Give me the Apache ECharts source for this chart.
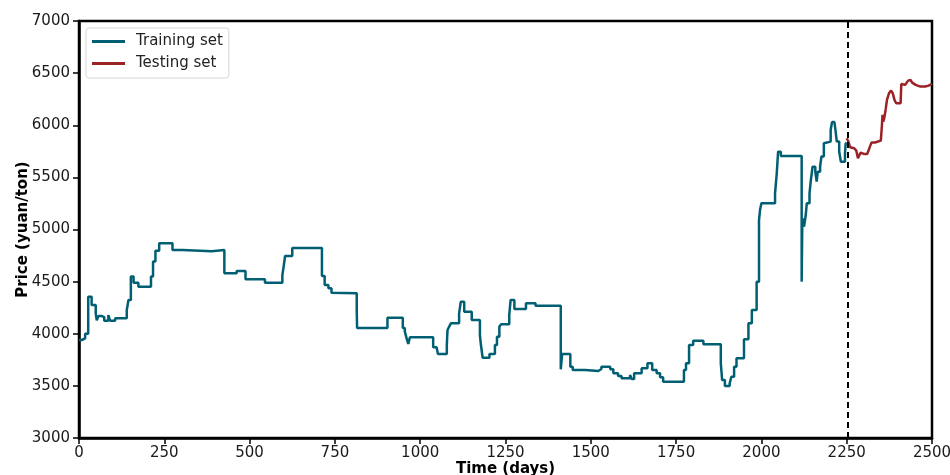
<!DOCTYPE html>
<html>
<head>
<meta charset="utf-8">
<script src="https://cdn.jsdelivr.net/npm/echarts@6/dist/echarts.min.js"></script>
<style>
html,body{margin:0;padding:0;background:#fff;}
#chart{width:950px;height:475px;}
</style>
</head>
<body>
<div id="chart"></div>
<script>
// Training set: [day, price] change points (price holds until next day listed)
const trainDays = [0,8,18,27,37,49,52,57,66,74,86,91,106,140,145,152,160,174,211,217,224,235,274,303,389,426,462,488,545,596,600,604,625,712,720,731,740,745,814,815,904,949,955,960,965,970,1038,1048,1052,1078,1080,1085,1090,1114,1119,1129,1151,1175,1178,1183,1203,1219,1225,1232,1237,1261,1265,1276,1310,1338,1412,1416,1440,1447,1483,1522,1531,1557,1566,1580,1590,1615,1620,1627,1649,1666,1680,1693,1703,1712,1773,1779,1788,1800,1830,1881,1885,1893,1907,1912,1920,1927,1949,1962,1972,1986,1993,1996,2000,2040,2045,2049,2057,2118,2120,2125,2130,2133,2141,2145,2150,2158,2162,2165,2172,2176,2183,2187,2203,2207,2214,2217,2221,2228,2233,2245,2247,2250];
const trainPrices = [3940,3955,4000,4355,4275,4195,4130,4170,4160,4125,4180,4125,4148,4228,4324,4548,4490,4452,4548,4692,4797,4868,4803,4791,4803,4580,4602,4522,4490,4560,4650,4746,4822,4554,4468,4436,4394,4388,4228,4055,4154,4055,4020,3958,3902,3966,3870,3855,3806,3890,4036,4068,4100,4196,4308,4210,4132,3988,3892,3770,3806,3892,3972,4068,4090,4180,4324,4237,4292,4268,3659,3806,3684,3652,3643,3662,3684,3659,3620,3595,3572,3604,3565,3620,3668,3716,3652,3620,3582,3540,3652,3716,3892,3934,3899,3716,3556,3499,3524,3588,3684,3764,3947,4100,4228,4500,5091,5187,5251,5347,5539,5747,5705,4500,5107,5027,5139,5251,5347,5475,5602,5554,5459,5554,5602,5700,5827,5843,5955,6030,6030,5955,5843,5746,5650,5730,5827];

// Testing set
const testDays = [2250,2255,2260,2265,2272,2278,2283,2288,2291,2300,2310,2314,2318,2323,2333,2336,2350,2353,2355,2357,2360,2364,2368,2374,2380,2385,2390,2395,2408,2410,2415,2421,2424,2430,2437,2442,2452,2466,2480,2490,2500];
const testPrices = [5875,5843,5789,5802,5779,5757,5683,5683,5738,5725,5725,5757,5795,5834,5834,5853,5853,5987,6099,6035,6067,6147,6243,6307,6332,6307,6243,6211,6211,6396,6387,6387,6402,6428,6434,6409,6387,6371,6371,6380,6396];

const splitDay = 2254;
const xTicks = {min:0, max:2500, interval:250};
const yTicks = {min:3000, max:7000, interval:500};

const trainData = trainDays.map((d,i)=>[d, trainPrices[i]]);
const testData = testDays.map((d,i)=>[d, testPrices[i]]);

const font = 'DejaVu Sans';
const chart = echarts.init(document.getElementById('chart'), null, {renderer:'canvas'});
chart.setOption({
  animation:false,
  backgroundColor:'#fff',
  grid:{left:79,right:18,top:21,bottom:37,outerBoundsMode:'none',containLabel:false,show:true,borderColor:'#000',borderWidth:2.5,backgroundColor:'transparent'},
  legend:{
    orient:'vertical', left:86, top:28,
    backgroundColor:'#fff', borderColor:'#d6d6d6', borderWidth:1, borderRadius:3,
    padding:[6,6,7,6], itemGap:7, itemWidth:33, itemHeight:3,
    textStyle:{fontFamily:font, fontSize:15, color:'#222', padding:[0,0,0,6]},
    data:[{name:'Training set',icon:'rect'},{name:'Testing set',icon:'rect'}]
  },
  xAxis:{
    type:'value', min:xTicks.min, max:xTicks.max, interval:xTicks.interval,
    name:'Time (days)', nameLocation:'middle', nameGap:24, nameMoveOverlap:false,
    nameTextStyle:{fontFamily:font, fontSize:15, fontWeight:'bold', color:'#000', verticalAlign:'top'},
    axisLine:{show:true, lineStyle:{color:'#000', width:2.5}},
    axisTick:{show:true, inside:false, length:6, lineStyle:{color:'#000', width:1.5}},
    axisLabel:{fontFamily:font, fontSize:15, color:'#1a1a1a', margin:8, formatter:(v)=>String(v)},
    splitLine:{show:false}
  },
  yAxis:{
    type:'value', min:yTicks.min, max:yTicks.max, interval:yTicks.interval,
    name:'Price (yuan/ton)', nameLocation:'middle', nameGap:48, nameMoveOverlap:false,
    nameTextStyle:{fontFamily:font, fontSize:15, fontWeight:'bold', color:'#000'},
    axisLine:{show:true, lineStyle:{color:'#000', width:2.5}},
    axisTick:{show:true, inside:false, length:6, lineStyle:{color:'#000', width:1.5}},
    axisLabel:{fontFamily:font, fontSize:15, color:'#1a1a1a', margin:9, formatter:(v)=>String(v)},
    splitLine:{show:false}
  },
  series:[
    {
      name:'Training set', type:'line', step:'end', data:trainData,
      showSymbol:false, symbol:'none', color:'#005f73',
      lineStyle:{color:'#005f73', width:2.5}, z:3,
      markLine:{
        silent:true, symbol:'none', label:{show:false},
        lineStyle:{color:'#000', type:[6,4], width:2},
        data:[{xAxis:splitDay}]
      }
    },
    {
      name:'Testing set', type:'line', data:testData,
      showSymbol:false, symbol:'none', color:'#9b2226',
      lineStyle:{color:'#9b2226', width:2.5}, z:3
    }
  ]
});
</script>
</body>
</html>
